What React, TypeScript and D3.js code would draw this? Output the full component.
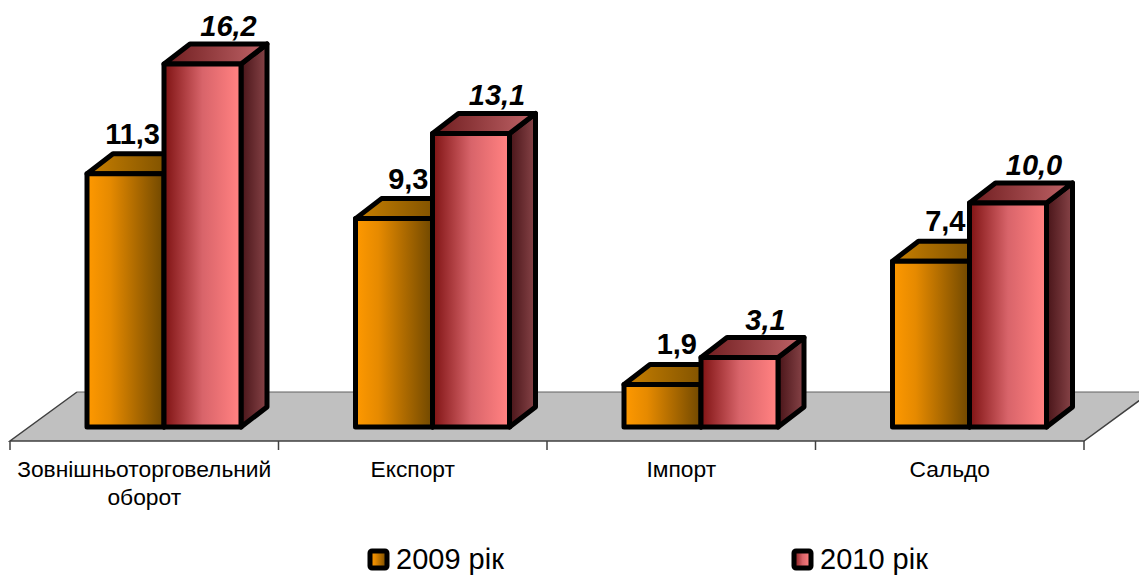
import React from 'react';
import * as d3 from 'd3';

const categories = ['Зовнішньоторговельний оборот', 'Експорт', 'Імпорт', 'Сальдо'];
const seriesNames = ['2009 рік', '2010 рік'];
const values2009 = [11.3, 9.3, 1.9, 7.4];
const values2010 = [16.2, 13.1, 3.1, 10.0];
const allValues = [values2009, values2010];

const WIDTH = 1139;
const HEIGHT = 575;
const FONT = '"Liberation Sans", Arial, sans-serif';

// fake 3d offsets
const DX = 26;
const DY = -20;
const floorFront = 441;
const floorBack = 392;
const baseY = 427;

const x0 = d3.scaleBand<string>().domain(categories).range([10, 1084]);
const x1 = d3.scaleBand<string>().domain(seriesNames).range([77, 231]);
const y = d3.scaleLinear().domain([0, 16.2]).range([baseY, 64]);

const poly = d3.line<[number, number]>();

const App: React.FC = () => {
  const floor: [number, number][] = [
    [10, floorFront],
    [77, floorBack],
    [1151, floorBack],
    [1084, floorFront],
  ];
  const w = x1.bandwidth();

  return (
    <svg width={WIDTH} height={HEIGHT} style={{ position: 'absolute', left: 0, top: 0, fontFamily: FONT }}>
      <defs>
        <linearGradient id="front0"><stop offset="0" stopColor="#ff9900" /><stop offset="0.3" stopColor="#e68a00" /><stop offset="1" stopColor="#704800" /></linearGradient>
        <linearGradient id="top0"><stop offset="0" stopColor="#c98000" /><stop offset="1" stopColor="#6b4500" /></linearGradient>
        <linearGradient id="side0"><stop offset="0" stopColor="#6b4500" /><stop offset="1" stopColor="#a06a00" /></linearGradient>
        <linearGradient id="front1"><stop offset="0" stopColor="#7e1212" /><stop offset="0.5" stopColor="#d8646a" /><stop offset="0.95" stopColor="#ff8080" /><stop offset="1" stopColor="#ff8080" /></linearGradient>
        <linearGradient id="top1"><stop offset="0" stopColor="#6e1c1e" /><stop offset="1" stopColor="#c06468" /></linearGradient>
        <linearGradient id="side1"><stop offset="0" stopColor="#481418" /><stop offset="1" stopColor="#884448" /></linearGradient>
      </defs>

      {/* Floor */}
      <path d={poly(floor) + 'Z'} fill="#c0c0c0" stroke="none" />
      <path d={poly([[77, floorBack], [1151, floorBack]])!} stroke="#606060" strokeWidth={1} fill="none" />
      <path d={poly([[77, floorBack], [10, floorFront], [1084, floorFront], [1151, floorBack]])!} stroke="#404040" strokeWidth={1.5} fill="none" />

      {/* Axis ticks */}
      {[...categories.map(c => x0(c)!), 1084].map((t, i) => (
        <line key={i} x1={t} x2={t} y1={floorFront} y2={450} stroke="#404040" strokeWidth={1.5} />
      ))}

      {/* Bars */}
      {categories.map((cat, ci) =>
        seriesNames.map((s, si) => {
          const left = x0(cat)! + x1(s)!;
          const right = left + w;
          const top = y(allValues[si][ci]);
          const sideFace: [number, number][] = [[right, top], [right + DX, top + DY], [right + DX, baseY + DY], [right, baseY]];
          const topFace: [number, number][] = [[left, top], [left + DX, top + DY], [right + DX, top + DY], [right, top]];
          return (
            <g key={cat + s} stroke="#000" strokeWidth={5} strokeLinejoin="round">
              <path d={poly(sideFace) + 'Z'} fill={`url(#side${si})`} />
              <path d={poly(topFace) + 'Z'} fill={`url(#top${si})`} />
              <rect x={left} y={top} width={w} height={baseY - top} fill={`url(#front${si})`} />
            </g>
          );
        })
      )}

      {/* Value labels */}
      {categories.map((cat, ci) =>
        seriesNames.map((s, si) => {
          const left = x0(cat)! + x1(s)!;
          const top = y(allValues[si][ci]);
          const label = d3.format('.1f')(allValues[si][ci]).replace('.', ',');
          return si === 0 ? (
            <text key={cat + s} x={left + w - 4} y={top + DY - 10} textAnchor="end" fontSize={29} fontWeight="bold" fill="#000">{label}</text>
          ) : (
            <text key={cat + s} x={left + w / 2 + 26} y={top + DY - 8} textAnchor="middle" fontSize={29} fontWeight="bold" fontStyle="italic" fill="#000">{label}</text>
          );
        })
      )}

      {/* Category labels */}
      {categories.map(cat => {
        const cx = x0(cat)! + x0.bandwidth() / 2;
        return (
          <text key={cat} textAnchor="middle" fontSize={22.8} fill="#000">
            {cat.split(' ').map((part, i) => (
              <tspan key={i} x={cx} y={477 + i * 28}>{part}</tspan>
            ))}
          </text>
        );
      })}

      {/* Legend */}
      {seriesNames.map((s, si) => {
        const lx = 370 + si * 424;
        return (
          <g key={s}>
            <rect x={lx} y={551} width={17} height={17} rx={2} fill={`url(#front${si})`} stroke="#000" strokeWidth={5} strokeLinejoin="round" />
            <text x={lx + 26} y={568.5} fontSize={29} fill="#000">{s}</text>
          </g>
        );
      })}
    </svg>
  );
};

export default App;
